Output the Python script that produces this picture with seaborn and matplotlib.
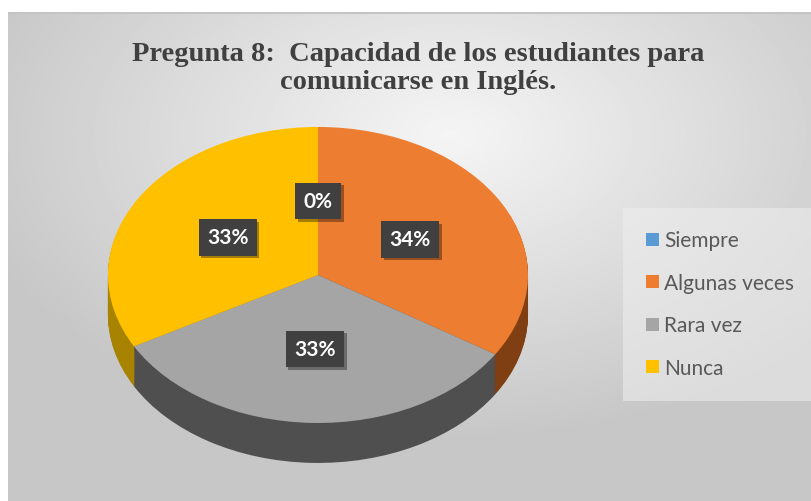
import numpy as np
import matplotlib
matplotlib.use('Agg')
import matplotlib.pyplot as plt
import matplotlib.patheffects as pe
import seaborn as sns

# datos
categorias = ['Siempre', 'Algunas veces', 'Rara vez', 'Nunca']
porcentajes = [0, 34, 33, 33]
colores = ['#5b9bd5', '#ed7d31', '#a5a5a5', '#ffc000']
colores_lado = ['#2e5f8a', '#7f3f12', '#4f4f4f', '#a88300']
titulo = 'Pregunta 8:  Capacidad de los estudiantes para\ncomunicarse en Inglés.'

sns.set_theme(style='white')
plt.rcParams['font.family'] = ['DejaVu Sans']

fig = plt.figure(figsize=(8.12, 5.02), dpi=100)
fig.patch.set_facecolor('white')

# fondo con degradado radial
bg = fig.add_axes([8 / 812, 0, 1 - 8 / 812, (502 - 13) / 502])
yy, xx = np.mgrid[0:1:300j, 0:1:500j]
d = np.sqrt(((xx - 0.55) / 0.9) ** 2 + ((yy - 0.25) / 0.9) ** 2)
grad = np.clip(0.96 - 0.26 * d, 0.78, 0.96)
bg.imshow(grad, cmap='gray', vmin=0, vmax=1, aspect='auto',
          extent=[0, 1, 1, 0])
bg.set_axis_off()
bg.plot([0, 1], [0.997, 0.997], color='#c4c4c4', lw=1.5, transform=bg.transAxes)

# pastel 3D
ax = fig.add_axes([0.0683, 0.008, 0.6466, 0.8108])
profundidad = 0.27
for off in np.linspace(-profundidad, 0, 40)[:-1]:
    ax.pie(porcentajes, colors=colores_lado, startangle=90, counterclock=False,
           center=(0, off), wedgeprops=dict(linewidth=0))

wedges, textos, autotextos = ax.pie(
    porcentajes, colors=colores, startangle=90, counterclock=False,
    autopct='%1.0f%%', pctdistance=0.5, wedgeprops=dict(linewidth=0),
    textprops=dict(color='white', fontsize=15, fontweight='bold', family='Lato'))

for t in autotextos:
    t.set_bbox(dict(boxstyle='square,pad=0.4', facecolor='#404040', edgecolor='none'))
    t.get_bbox_patch().set_path_effects([
        pe.SimplePatchShadow(offset=(2, -2), shadow_rgbFace='black', alpha=0.35),
        pe.Normal()])

ax.set_aspect('auto')
ax.set_xlim(-1.25, 1.25)
ax.set_ylim(-1.5, 1.25)
ax.set_axis_off()

fig.text(0.515, 0.864, titulo, ha='center', va='center', fontsize=20.5,
         fontweight='bold', family='Liberation Serif', color='#404040',
         linespacing=1.13)

leg = fig.legend(wedges, categorias, loc='center left',
                 bbox_to_anchor=(0.77, 0.392), frameon=True,
                 prop=dict(family='Lato', size=15), labelcolor='#595959',
                 handlelength=0.6, handleheight=0.6, handletextpad=0.25,
                 labelspacing=1.08, borderpad=0.8, borderaxespad=0.2)
leg.get_frame().set_facecolor('#efefef')
leg.get_frame().set_edgecolor('none')
leg.get_frame().set_alpha(0.55)
leg.get_frame().set_boxstyle('square')

fig.savefig('out.png', dpi=100)
